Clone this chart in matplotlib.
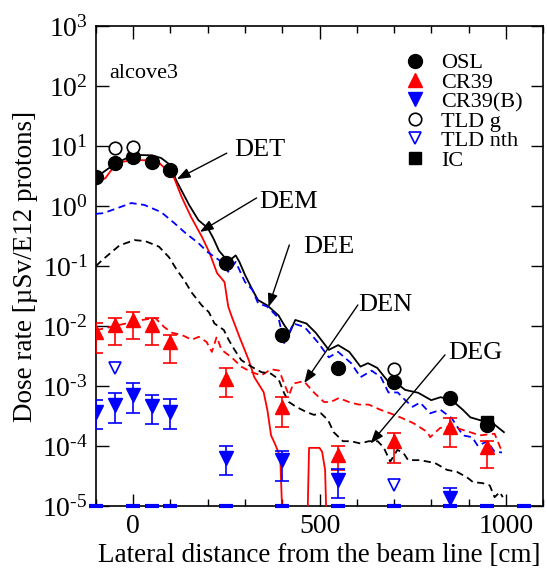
import numpy as np
import matplotlib
matplotlib.use("Agg")
import matplotlib.pyplot as plt
from matplotlib.lines import Line2D

plt.rcParams['font.family'] = ['Liberation Serif', 'DejaVu Serif']
plt.rcParams['mathtext.fontset'] = 'custom'
plt.rcParams['mathtext.rm'] = 'Liberation Serif'
plt.rcParams['mathtext.it'] = 'Liberation Serif:italic'

# measured points
osl_x = [-100, -50, 0, 50, 100, 250, 400, 550, 700, 850, 950]
osl_y = [3.0, 5.2, 6.6, 5.4, 4.0, 0.112, 0.0071, 0.0020, 0.00117, 6.3e-4, 2.2e-4]

cr39_x = [-100, -50, 0, 50, 100, 250, 400, 550, 700, 850, 950]
cr39_y = [0.0079, 0.0104, 0.0126, 0.0104, 0.0055, 0.0013, 4.5e-4, 7.1e-5, 1.2e-4, 2.1e-4, 9.7e-5]
cr39_lo = [0.0036, 0.0048, 0.0060, 0.0048, 0.0024, 6.5e-4, 2.1e-4, 4.0e-5, 5.2e-5, 9.5e-5, 4.3e-5]
cr39_hi = [0.0112, 0.0136, 0.0171, 0.0136, 0.0071, 0.0020, 6.5e-4, 1.0e-4, 1.64e-4, 2.9e-4, 1.2e-4]

cr39b_x = [-100, -50, 0, 50, 100, 250, 400, 550, 850]
cr39b_y = [3.7e-4, 4.9e-4, 7.1e-4, 4.6e-4, 3.7e-4, 6.3e-5, 5.8e-5, 2.7e-5, 1.35e-5]
cr39b_lo = [1.9e-4, 2.4e-4, 3.5e-4, 2.3e-4, 1.9e-4, 3.3e-5, 2.6e-5, 1.36e-5, 4e-6]
cr39b_hi = [5.8e-4, 7.6e-4, 1.1e-3, 7.1e-4, 6.0e-4, 1.0e-4, 8.3e-5, 4.2e-5, 2.0e-5]

# CR39(B) readings below the plotted range
below_x = [-100, 0, 50, 100, 250, 400, 550, 700, 850, 950, 1050]
below_y = [1e-5] * len(below_x)

tldg_x = [-50, 0, 700]
tldg_y = [9.25, 9.6, 0.0019]

tldn_x = [-50, 700]
tldn_y = [2.0e-3, 2.2e-5]

ic_x = [950]
ic_y = [2.5e-4]

# calculated curves
det_x = [-100, -50, 0, 50, 75, 100, 115, 150, 175, 200, 215, 230, 245, 260, 275, 285,
         300, 320, 335, 360, 390, 405, 420, 435, 465, 490, 525, 550, 580, 610, 630,
         655, 685, 700, 720, 730, 765, 800, 825, 855, 885, 905, 930, 965, 995]
det_y = [3.0, 5.0, 7.1, 7.0, 6.3, 4.8, 2.7, 1.04, 0.58, 0.43, 0.29, 0.18, 0.14, 0.126,
         0.15, 0.117, 0.071, 0.040, 0.027, 0.022, 0.015, 0.0104, 0.0077, 0.0126, 0.011,
         0.0077, 0.0040, 0.0048, 0.0037, 0.0021, 0.0024, 0.0020, 0.00117, 0.00126,
         9.6e-4, 8.6e-4, 7.7e-4, 5.8e-4, 6.5e-4, 5.8e-4, 4.0e-4, 3.0e-4, 2.7e-4,
         2.4e-4, 1.7e-4]

dem_x = [-100, -75, -45, -5, 45, 70, 95, 110, 130, 155, 185, 205, 225, 245, 255, 265,
         285, 310, 325, 350, 360, 370, 380, 390, 395, 405, 465, 472, 500, 507, 515, 522]
dem_y = [2.5, 2.9, 5.2, 5.8, 5.8, 5.2, 3.7, 2.9, 1.41, 0.66, 0.30, 0.165, 0.076, 0.054,
         0.021, 0.014, 0.0066, 0.0027, 0.0014, 7.9e-4, 4.0e-4, 1.5e-4, 1.1e-4, 7.8e-5,
         5.5e-5, 1e-6, 1e-6, 9.3e-5, 9.3e-5, 8.0e-5, 4.0e-5, 1e-6]

dee_x = [-100, -80, -5, 30, 75, 110, 140, 175, 200, 230, 255, 275, 300, 320, 335, 360,
         390, 405, 430, 460, 495, 525, 550, 585, 610, 640, 665, 685, 710, 730, 750,
         770, 797, 825, 855, 885, 910, 925, 950, 970, 990]
dee_y = [0.74, 0.76, 1.12, 1.04, 0.79, 0.52, 0.355, 0.24, 0.17, 0.126, 0.080, 0.117,
         0.054, 0.040, 0.024, 0.021, 0.0136, 0.0052, 0.011, 0.0096, 0.0054, 0.0030,
         0.0037, 0.0024, 0.0014, 0.0018, 0.0014, 7.8e-4, 7.8e-4, 5.8e-4, 4.5e-4,
         5.3e-4, 3.5e-4, 4.0e-4, 2.9e-4, 1.5e-4, 1.4e-4, 1.0e-4, 1.2e-4, 8.0e-5, 7.8e-5]

den_x = [-100, -50, 24, 59, 83, 104, 130, 157, 176, 197, 211, 224, 237, 264, 290, 317,
         344, 370, 392, 405, 418, 430, 458, 485, 512, 530, 552, 579, 605, 632, 664,
         690, 717, 752, 790, 797, 824, 856, 904, 930, 970, 990]
den_y = [0.0085, 0.010, 0.0126, 0.0136, 0.0096, 0.0077, 0.0071, 0.0059, 0.0066,
         0.0054, 0.0037, 0.0066, 0.0040, 0.0030, 0.0021, 0.0017, 0.0015, 0.0019,
         0.0018, 0.0011, 7.0e-4, 0.0011, 0.0012, 7.8e-4, 5.4e-4, 5.4e-4, 6.3e-4,
         5.4e-4, 4.9e-4, 4.9e-4, 4.0e-4, 3.5e-4, 3.0e-4, 2.4e-4, 1.7e-4, 1.4e-4,
         2.0e-4, 2.1e-4, 1.7e-4, 1.5e-4, 1.6e-4, 8.0e-5]

deg_x = [-100, -83, -37, 3, 32, 69, 96, 117, 136, 157, 184, 203, 218, 243, 256, 272,
         290, 317, 344, 370, 390, 405, 418, 437, 464, 485, 504, 523, 538, 563, 584,
         610, 632, 656, 672, 690, 709, 725, 738, 770, 810, 842, 869, 896, 912, 938,
         957, 970, 984, 992]
deg_y = [0.10, 0.126, 0.22, 0.27, 0.26, 0.21, 0.14, 0.086, 0.059, 0.036, 0.022, 0.017,
         0.011, 0.0086, 0.0059, 0.0040, 0.0027, 0.0021, 0.0017, 0.0016, 0.0013, 7.6e-4,
         5.4e-4, 4.5e-4, 3.7e-4, 3.3e-4, 3.5e-4, 2.7e-4, 1.7e-4, 1.2e-4, 1.2e-4, 1.1e-4,
         1.2e-4, 1.2e-4, 9.5e-5, 5.5e-5, 8.6e-5, 7.7e-5, 5.8e-5, 5.8e-5, 5.2e-5, 4.0e-5,
         3.7e-5, 3.0e-5, 2.5e-5, 2.4e-5, 2.2e-5, 1.4e-5, 1.7e-5, 1.4e-5]

# curve labels: name, text position, arrow tail, arrow head
labels = ['DET', 'DEM', 'DEE', 'DEN', 'DEG']
label_pos = [(272, 8.6), (339, 1.17), (456, 0.207), (605, 0.0224), (845, 0.0036)]
arrow_tail = [(251, 7.6), (331, 1.36), (419, 0.224), (603, 0.0224), (837, 0.0033)]
arrow_head = [(117, 2.8), (179, 0.37), (363, 0.0207), (459, 0.00112), (637, 1.1e-4)]

fig = plt.figure(figsize=(5.47, 5.73), dpi=100)
ax = fig.add_axes([0.1755, 0.117, 0.8172, 0.8376])

lw = 1.3
dash = (0, (4, 2.5))
ax.plot(det_x, det_y, color='black', lw=lw, zorder=3)
ax.plot(dem_x, dem_y, color='red', lw=lw, zorder=3)
ax.plot(dee_x, dee_y, color='blue', lw=lw, ls=dash, zorder=3)
ax.plot(den_x, den_y, color='red', lw=lw, ls=dash, zorder=3)
ax.plot(deg_x, deg_y, color='black', lw=lw, ls=dash, zorder=3)

ms = 10
cr39_err = [np.subtract(cr39_y, cr39_lo), np.subtract(cr39_hi, cr39_y)]
cr39b_err = [np.subtract(cr39b_y, cr39b_lo), np.subtract(cr39b_hi, cr39b_y)]

ax.plot(osl_x, osl_y, 'o', color='black', ms=ms, zorder=4)
ax.errorbar(cr39_x, cr39_y, yerr=cr39_err, fmt='^', color='red', ms=ms,
            capsize=5, elinewidth=1.2, capthick=1.2, zorder=4)
ax.errorbar(cr39b_x, cr39b_y, yerr=cr39b_err, fmt='v', color='blue', ms=ms,
            capsize=5, elinewidth=1.2, capthick=1.2, zorder=4)
ax.plot(tldg_x, tldg_y, 'o', mfc='white', mec='black', mew=1.2, ms=ms - 1, zorder=4)
ax.plot(tldn_x, tldn_y, 'v', mfc='white', mec='blue', mew=1.2, ms=ms - 1, zorder=4)
ax.plot(ic_x, ic_y, 's', color='black', ms=ms - 1, zorder=4)
ax.plot(below_x, below_y, '_', color='blue', ms=10, mew=3, clip_on=False, zorder=5)

for name, tp, tail, head in zip(labels, label_pos, arrow_tail, arrow_head):
    ax.annotate('', xy=head, xytext=tail,
                arrowprops=dict(arrowstyle='-|>,head_length=0.8,head_width=0.3',
                                color='black', lw=1.0, shrinkA=0, shrinkB=0),
                zorder=6)
    ax.text(tp[0], tp[1], name, fontsize=19, va='center', ha='left', zorder=6)

ax.text(0.03, 0.902, 'alcove3', transform=ax.transAxes, fontsize=16,
        va='center', ha='left')

ax.set_yscale('log')
ax.set_xlim(-100, 1100)
ax.set_ylim(1e-5, 1e3)
ax.set_xticks([0, 500, 1000])
ax.set_xticks(np.arange(-100, 1101, 100), minor=True)
ax.set_yticks([10.0 ** k for k in range(-5, 4)])
ax.yaxis.set_minor_locator(matplotlib.ticker.NullLocator())
ax.yaxis.set_major_formatter(matplotlib.ticker.FuncFormatter(
    lambda v, p: r'$\mathdefault{10^{%s}}$' % ('%d' % round(np.log10(v))).replace('-', r'\text{-}')))
ax.tick_params(which='major', direction='in', length=9, width=1, top=True,
               right=True, labelsize=20, pad=6)
ax.tick_params(which='minor', direction='in', length=5, width=1, top=True,
               right=True)
for s in ax.spines.values():
    s.set_linewidth(1.2)

ax.set_xlabel('Lateral distance from the beam line [cm]', fontsize=19.5, labelpad=3)
ax.set_ylabel('Dose rate [µSv/E12 protons]', fontsize=19.5, labelpad=3)

handles = [
    Line2D([], [], ls='', marker='o', color='black', ms=ms),
    Line2D([], [], ls='', marker='^', color='red', ms=ms),
    Line2D([], [], ls='', marker='v', color='blue', ms=ms),
    Line2D([], [], ls='', marker='o', mfc='white', mec='black', mew=1.2, ms=ms - 1),
    Line2D([], [], ls='', marker='v', mfc='white', mec='blue', mew=1.2, ms=ms - 1),
    Line2D([], [], ls='', marker='s', color='black', ms=ms - 1),
]
names = ['OSL', 'CR39', 'CR39(B)', 'TLD g', 'TLD nth', 'IC']
ax.legend(handles, names, loc='upper right', bbox_to_anchor=(0.985, 0.972),
          frameon=False, fontsize=16, handletextpad=0.6, labelspacing=-0.05,
          handlelength=1.2, borderaxespad=0.2)

fig.savefig('out.png', dpi=100)
